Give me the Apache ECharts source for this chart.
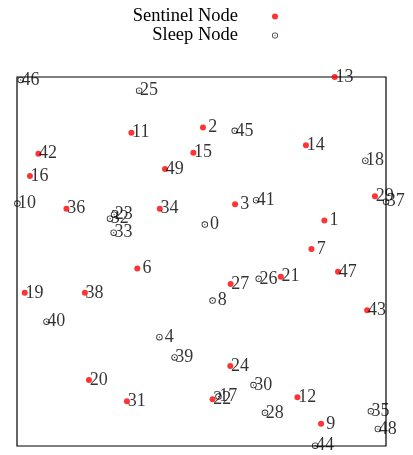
<!DOCTYPE html>
<html>
<head>
<meta charset="utf-8">
<script src="https://cdn.jsdelivr.net/npm/echarts@6/dist/echarts.min.js"></script>
<style>html,body{margin:0;padding:0;background:#fff;}#c{width:413px;height:455px;}</style>
</head>
<body>
<div id="c"></div>
<script>
// Sentinel nodes: [id, x, y]
const sentinelIds = [13, 2, 11, 42, 16, 49, 15, 14, 29, 36, 34, 3, 1, 7, 6, 47, 27, 21, 19, 38, 43, 24, 20, 31, 22, 12, 9];
const sentinelX = [86.1, 50.4, 31.0, 5.8, 3.5, 40.1, 47.8, 78.3, 97.0, 13.4, 38.7, 59.1, 83.3, 79.8, 32.6, 87.0, 57.9, 71.5, 2.1, 18.4, 94.9, 57.8, 19.5, 29.8, 53.0, 76.0, 82.4];
const sentinelY = [100.0, 86.3, 84.9, 79.2, 73.2, 75.1, 79.5, 81.5, 67.7, 64.3, 64.3, 65.5, 61.1, 53.4, 48.1, 47.2, 43.9, 45.9, 41.5, 41.5, 36.8, 21.7, 17.9, 12.1, 12.7, 13.2, 6.0];
// Sleep nodes
const sleepIds = [46, 25, 45, 18, 10, 41, 37, 23, 32, 0, 33, 26, 8, 40, 4, 39, 30, 17, 28, 35, 48, 44];
const sleepX = [1.0, 33.1, 59.0, 94.4, 0.1, 64.8, 100.0, 26.3, 25.2, 50.9, 26.2, 65.5, 53.0, 8.0, 38.6, 42.7, 64.1, 54.6, 67.2, 95.9, 97.8, 80.8];
const sleepY = [99.2, 96.3, 85.4, 77.3, 65.7, 66.6, 66.2, 62.7, 61.6, 60.0, 57.8, 45.3, 39.4, 33.7, 29.5, 24.0, 16.5, 13.4, 9.0, 9.4, 4.6, 0.1];
const seriesNames = ['Sentinel Node', 'Sleep Node'];

const sentinelData = sentinelIds.map((id, i) => ({value: [sentinelX[i], sentinelY[i]], name: String(id)}));
const sleepData = sleepIds.map((id, i) => ({value: [sleepX[i], sleepY[i]], name: String(id)}));

const ringPath = 'path://M0,10 A10,10 0 1,0 20,10 A10,10 0 1,0 0,10 Z M2.6,10 A7.4,7.4 0 1,1 17.4,10 A7.4,7.4 0 1,1 2.6,10 Z M8,10 A2,2 0 1,0 12,10 A2,2 0 1,0 8,10 Z';
const font = 'Liberation Serif';
const labelOpt = {
  show: true, position: 'right', distance: -2.3,
  formatter: p => (p.name.length < 2 ? ' ' + p.name : p.name),
  fontFamily: font, fontSize: 18, color: '#000'
};

const chart = echarts.init(document.getElementById('c'), null, {renderer: 'canvas'});
chart.setOption({
  animation: false,
  backgroundColor: '#fff',
  grid: {left: 17, top: 77, width: 369, height: 369, show: true, borderColor: '#000', borderWidth: 1.2, backgroundColor: 'transparent'},
  xAxis: {type: 'value', min: 0, max: 100, show: false},
  yAxis: {type: 'value', min: 0, max: 100, show: false},
  legend: [
    {data: [seriesNames[0]], orient: 'vertical', align: 'right', right: 135, top: 7, padding: 0,
     itemWidth: 6, itemHeight: 6, textStyle: {fontFamily: font, fontSize: 18.5, color: '#000', padding: [0, 29, 0, 0]}},
    {data: [seriesNames[1]], orient: 'vertical', align: 'right', right: 135, top: 26, padding: 0,
     itemWidth: 6, itemHeight: 6, textStyle: {fontFamily: font, fontSize: 18.5, color: '#000', padding: [0, 29, 0, 0]}}
  ],
  series: [
    {name: seriesNames[0], type: 'scatter', data: sentinelData, symbol: 'circle', symbolSize: 6,
     itemStyle: {color: '#ff0000'}, label: labelOpt, clip: false, z: 3},
    {name: seriesNames[1], type: 'scatter', data: sleepData, symbol: ringPath, symbolSize: 6.5,
     itemStyle: {color: '#000'}, label: Object.assign({}, labelOpt, {distance: -2.5}), clip: false, z: 2}
  ]
});
</script>
</body>
</html>
